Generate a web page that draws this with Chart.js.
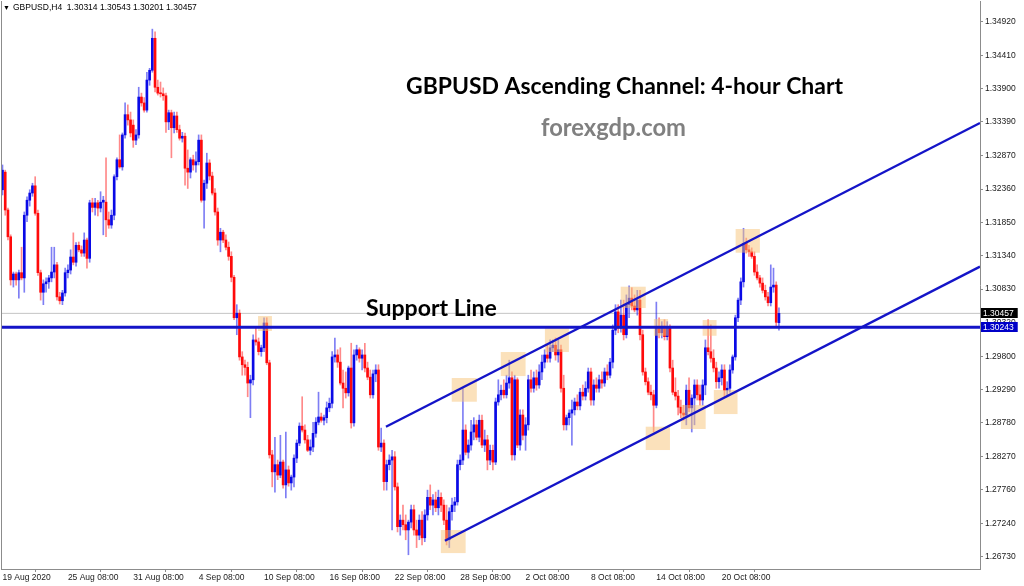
<!DOCTYPE html>
<html><head><meta charset="utf-8">
<script src="https://cdn.jsdelivr.net/npm/chart.js@4.4.1/dist/chart.umd.min.js"></script>
<style>html,body{margin:0;padding:0;background:#fff;overflow:hidden}#wrap{width:1024px;height:586px;position:relative}</style>
</head><body><div id="wrap"><canvas id="c" width="1024" height="586"></canvas></div>
<script>
// ---------- texts ----------
const headerSymbol = '▼';
const headerText = 'GBPUSD,H4  1.30314 1.30543 1.30201 1.30457';
const titleText = 'GBPUSD Ascending Channel: 4-hour Chart';
const siteText = 'forexgdp.com';
const supportText = 'Support Line';

// ---------- GBPUSD H4 candles (19 Aug 2020 08:00 ... 23 Oct 2020 20:00) ----------
const opens = [
1.3235,1.3262,1.3204,1.3163,1.3097,1.3106,1.3097,1.3108,1.3100,1.3196,
1.3219,1.3230,1.3241,1.3199,1.3108,1.3078,1.3091,1.3094,1.3100,1.3109,
1.3120,1.3071,1.3065,1.3077,1.3108,1.3112,1.3132,1.3124,1.3150,1.3143,
1.3138,1.3158,1.3130,1.3215,1.3208,1.3215,1.3207,1.3216,1.3216,1.3189,
1.3181,1.3196,1.3255,1.3281,1.3270,1.3319,1.3350,1.3342,1.3334,1.3311,
1.3319,1.3377,1.3368,1.3357,1.3403,1.3418,1.3467,1.3392,1.3383,1.3382,
1.3379,1.3339,1.3353,1.3330,1.3348,1.3327,1.3314,1.3317,1.3268,1.3262,
1.3281,1.3273,1.3278,1.3311,1.3219,1.3245,1.3276,1.3256,1.3230,1.3201,
1.3158,1.3170,1.3158,1.3147,1.3133,1.3101,1.3039,1.3046,1.2979,1.2967,
1.2963,1.2939,1.2944,1.3005,1.3002,1.2987,1.2993,1.3031,1.2970,1.2829,
1.2803,1.2814,1.2798,1.2818,1.2783,1.2806,1.2786,1.2795,1.2824,1.2847,
1.2873,1.2867,1.2852,1.2836,1.2841,1.2862,1.2879,1.2887,1.2882,1.2886,
1.2901,1.2908,1.2979,1.2982,1.2971,1.2939,1.2931,1.2924,1.2962,1.2878,
1.2982,1.2990,1.2977,1.2982,1.2962,1.2948,1.2921,1.2953,1.2959,1.2841,
1.2847,1.2788,1.2814,1.2821,1.2826,1.2780,1.2719,1.2729,1.2722,1.2714,
1.2726,1.2745,1.2714,1.2706,1.2729,1.2702,1.2737,1.2764,1.2752,1.2760,
1.2748,1.2764,1.2752,1.2729,1.2699,1.2742,1.2752,1.2757,1.2814,1.2821,
1.2867,1.2833,1.2844,1.2864,1.2875,1.2856,1.2882,1.2844,1.2852,1.2821,
1.2836,1.2818,1.2910,1.2921,1.2928,1.2921,1.2939,1.2947,1.2829,1.2944,
1.2844,1.2890,1.2859,1.2875,1.2944,1.2931,1.2947,1.2936,1.2956,1.2971,
1.2982,1.2977,1.2993,1.2997,1.2982,1.2990,1.2931,1.2875,1.2886,1.2893,
1.2898,1.2910,1.2904,1.2925,1.2919,1.2931,1.2956,1.2913,1.2936,1.2931,
1.2944,1.2939,1.2956,1.2951,1.2971,1.3020,1.3048,1.3023,1.3043,1.3013,
1.3059,1.3069,1.3057,1.3051,1.3066,1.3013,1.2956,1.2941,1.2925,1.2921,
1.2905,1.3023,1.3016,1.3026,1.3010,1.3023,1.2962,1.2925,1.2919,1.2902,
1.2893,1.2890,1.2928,1.2901,1.2916,1.2936,1.2921,1.2913,1.2936,1.2993,
1.2987,1.2977,1.2962,1.2941,1.2947,1.2959,1.2928,1.2931,1.2959,1.2979,
1.3039,1.3066,1.3094,1.3153,1.3143,1.3140,1.3133,1.3109,1.3100,1.3092,
1.3081,1.3071,1.3062,1.3086,1.3089,1.30314
];
const highs = [
1.3273,1.3265,1.3207,1.3166,1.3109,1.3109,1.3112,1.3147,1.3201,1.3224,
1.3235,1.3245,1.3255,1.3204,1.3112,1.3097,1.3100,1.3104,1.3147,1.3147,
1.3124,1.3078,1.3081,1.3115,1.3120,1.3143,1.3169,1.3154,1.3155,1.3149,
1.3169,1.3161,1.3219,1.3222,1.3222,1.3219,1.3232,1.3225,1.3284,1.3201,
1.3204,1.3258,1.3284,1.3319,1.3322,1.3368,1.3365,1.3354,1.3342,1.3327,
1.3392,1.3383,1.3376,1.3415,1.3421,1.3481,1.3477,1.3403,1.3400,1.3391,
1.3383,1.3357,1.3357,1.3354,1.3354,1.3334,1.3323,1.3322,1.3296,1.3284,
1.3288,1.3293,1.3319,1.3319,1.3250,1.3291,1.3281,1.3262,1.3237,1.3207,
1.3176,1.3173,1.3166,1.3155,1.3140,1.3104,1.3059,1.3051,1.2987,1.2974,
1.2971,1.2951,1.3013,1.3025,1.3008,1.2997,1.3039,1.3039,1.2974,1.2836,
1.2856,1.2821,1.2859,1.2821,1.2864,1.2812,1.2798,1.2829,1.2852,1.2878,
1.2918,1.2875,1.2859,1.2852,1.2879,1.2886,1.2925,1.2893,1.2890,1.2910,
1.2916,1.2987,1.3008,1.2990,1.2993,1.2959,1.2956,1.2965,1.3000,1.2990,
1.2997,1.2993,1.2990,1.3000,1.2971,1.2959,1.2959,1.2967,1.2967,1.2870,
1.2852,1.2821,1.2829,1.2836,1.2834,1.2786,1.2737,1.2752,1.2737,1.2729,
1.2752,1.2752,1.2729,1.2737,1.2742,1.2745,1.2775,1.2783,1.2768,1.2772,
1.2775,1.2771,1.2760,1.2752,1.2748,1.2763,1.2764,1.2821,1.2829,1.2931,
1.2875,1.2852,1.2882,1.2886,1.2882,1.2890,1.2890,1.2867,1.2859,1.2844,
1.2844,1.2916,1.2944,1.2936,1.2944,1.2951,1.2974,1.2956,1.2951,1.2947,
1.2898,1.2898,1.2886,1.2951,1.2959,1.2956,1.2959,1.2967,1.2982,1.2990,
1.2997,1.3005,1.3005,1.3008,1.3005,1.2997,1.2951,1.2890,1.2898,1.2913,
1.2916,1.2921,1.2931,1.2936,1.2941,1.2962,1.2962,1.2944,1.2947,1.2951,
1.2956,1.2962,1.2967,1.2977,1.3028,1.3059,1.3059,1.3066,1.3066,1.3074,
1.3088,1.3085,1.3074,1.3081,1.3081,1.3020,1.2962,1.2947,1.2936,1.2928,
1.3063,1.3039,1.3033,1.3036,1.3033,1.3028,1.2974,1.2947,1.2928,1.2913,
1.2905,1.2936,1.2947,1.2921,1.2944,1.2944,1.2936,1.2944,1.3005,1.3036,
1.3028,1.2990,1.2971,1.2956,1.2967,1.2967,1.2941,1.2967,1.2982,1.3043,
1.3069,1.3100,1.3176,1.3161,1.3150,1.3146,1.3140,1.3120,1.3104,1.3100,
1.3089,1.3078,1.3120,1.3115,1.3094,1.30543
];
const lows = [
1.3227,1.3196,1.3158,1.3089,1.3086,1.3089,1.3069,1.3097,1.3078,1.3186,
1.3210,1.3225,1.3196,1.3104,1.3066,1.3059,1.3078,1.3084,1.3094,1.3100,
1.3066,1.3060,1.3059,1.3072,1.3100,1.3106,1.3120,1.3118,1.3140,1.3133,
1.3133,1.3115,1.3124,1.3201,1.3196,1.3195,1.3201,1.3166,1.3163,1.3176,
1.3176,1.3189,1.3250,1.3268,1.3265,1.3314,1.3334,1.3316,1.3300,1.3304,
1.3314,1.3363,1.3354,1.3354,1.3395,1.3415,1.3385,1.3380,1.3377,1.3372,
1.3323,1.3327,1.3284,1.3322,1.3323,1.3311,1.3308,1.3242,1.3237,1.3253,
1.3265,1.3262,1.3273,1.3216,1.3176,1.3237,1.3250,1.3227,1.3196,1.3150,
1.3140,1.3154,1.3143,1.3127,1.3094,1.3036,1.3013,1.2974,1.2951,1.2951,
1.2918,1.2886,1.2936,1.2997,1.2982,1.2980,1.2987,1.2967,1.2824,1.2780,
1.2772,1.2791,1.2794,1.2778,1.2763,1.2781,1.2775,1.2780,1.2817,1.2843,
1.2864,1.2847,1.2834,1.2829,1.2834,1.2856,1.2875,1.2879,1.2875,1.2878,
1.2895,1.2901,1.2971,1.2963,1.2936,1.2901,1.2916,1.2919,1.2870,1.2873,
1.2974,1.2971,1.2959,1.2956,1.2944,1.2916,1.2916,1.2941,1.2836,1.2834,
1.2775,1.2775,1.2806,1.2714,1.2775,1.2711,1.2706,1.2714,1.2699,1.2676,
1.2717,1.2706,1.2687,1.2699,1.2691,1.2696,1.2729,1.2745,1.2737,1.2742,
1.2737,1.2742,1.2722,1.2691,1.2687,1.2729,1.2742,1.2752,1.2806,1.2814,
1.2829,1.2824,1.2836,1.2852,1.2852,1.2849,1.2840,1.2834,1.2806,1.2814,
1.2806,1.2814,1.2905,1.2913,1.2916,1.2916,1.2931,1.2821,1.2821,1.2840,
1.2836,1.2852,1.2836,1.2867,1.2925,1.2925,1.2928,1.2931,1.2944,1.2962,
1.2971,1.2971,1.2987,1.2974,1.2971,1.2925,1.2867,1.2867,1.2875,1.2844,
1.2890,1.2898,1.2898,1.2913,1.2913,1.2925,1.2905,1.2905,1.2925,1.2925,
1.2931,1.2934,1.2944,1.2947,1.2962,1.3013,1.3016,1.3017,1.3005,1.3008,
1.3039,1.3051,1.3048,1.3043,1.3005,1.2951,1.2936,1.2921,1.2913,1.2864,
1.2901,1.3008,1.3008,1.3005,1.3005,1.2956,1.2921,1.2913,1.2890,1.2886,
1.2882,1.2875,1.2895,1.2864,1.2875,1.2913,1.2905,1.2905,1.2921,1.2982,
1.2971,1.2956,1.2931,1.2931,1.2936,1.2918,1.2919,1.2925,1.2954,1.2974,
1.3033,1.3059,1.3086,1.3138,1.3133,1.3130,1.3104,1.3097,1.3086,1.3077,
1.3066,1.3057,1.3057,1.3078,1.3026,1.30201
];
const closes = [
1.3265,1.3204,1.3163,1.3097,1.3106,1.3097,1.3108,1.3100,1.3196,1.3219,
1.3230,1.3241,1.3199,1.3108,1.3078,1.3091,1.3094,1.3100,1.3109,1.3120,
1.3071,1.3065,1.3077,1.3108,1.3112,1.3132,1.3124,1.3150,1.3143,1.3138,
1.3158,1.3130,1.3215,1.3208,1.3215,1.3207,1.3216,1.3219,1.3189,1.3181,
1.3196,1.3255,1.3281,1.3270,1.3319,1.3350,1.3342,1.3322,1.3311,1.3319,
1.3377,1.3368,1.3357,1.3403,1.3418,1.3467,1.3392,1.3383,1.3382,1.3379,
1.3339,1.3353,1.3330,1.3348,1.3327,1.3314,1.3317,1.3268,1.3262,1.3281,
1.3273,1.3278,1.3311,1.3219,1.3245,1.3276,1.3256,1.3230,1.3201,1.3158,
1.3170,1.3158,1.3147,1.3133,1.3101,1.3039,1.3046,1.2979,1.2967,1.2963,
1.2939,1.2944,1.3005,1.3002,1.2987,1.2993,1.3031,1.2970,1.2829,1.2803,
1.2814,1.2798,1.2818,1.2783,1.2806,1.2786,1.2795,1.2824,1.2847,1.2873,
1.2867,1.2852,1.2836,1.2841,1.2862,1.2879,1.2887,1.2882,1.2886,1.2901,
1.2908,1.2979,1.2982,1.2971,1.2939,1.2931,1.2924,1.2962,1.2878,1.2982,
1.2990,1.2977,1.2982,1.2962,1.2948,1.2921,1.2953,1.2959,1.2841,1.2847,
1.2788,1.2814,1.2821,1.2826,1.2780,1.2719,1.2729,1.2722,1.2714,1.2726,
1.2745,1.2714,1.2706,1.2729,1.2702,1.2737,1.2764,1.2752,1.2760,1.2748,
1.2764,1.2752,1.2729,1.2699,1.2742,1.2752,1.2757,1.2814,1.2821,1.2867,
1.2833,1.2844,1.2864,1.2875,1.2856,1.2882,1.2844,1.2852,1.2821,1.2836,
1.2818,1.2910,1.2921,1.2928,1.2921,1.2939,1.2947,1.2829,1.2944,1.2844,
1.2890,1.2859,1.2875,1.2944,1.2931,1.2947,1.2936,1.2956,1.2971,1.2982,
1.2977,1.2993,1.2997,1.2982,1.2990,1.2931,1.2875,1.2886,1.2893,1.2898,
1.2910,1.2904,1.2925,1.2919,1.2931,1.2956,1.2913,1.2936,1.2931,1.2944,
1.2939,1.2956,1.2951,1.2971,1.3020,1.3048,1.3023,1.3043,1.3013,1.3059,
1.3069,1.3057,1.3051,1.3066,1.3013,1.2956,1.2941,1.2925,1.2921,1.2905,
1.3023,1.3016,1.3026,1.3010,1.3023,1.2962,1.2925,1.2919,1.2902,1.2893,
1.2890,1.2928,1.2901,1.2916,1.2936,1.2921,1.2913,1.2936,1.2993,1.2987,
1.2977,1.2962,1.2941,1.2947,1.2959,1.2928,1.2931,1.2959,1.2979,1.3039,
1.3066,1.3094,1.3153,1.3143,1.3140,1.3133,1.3109,1.3100,1.3092,1.3081,
1.3071,1.3062,1.3086,1.3089,1.3032,1.30457
];

// ---------- axes ----------
const xTickIndex = [0, 24, 48, 72, 96, 120, 144, 168, 192, 216, 240, 264];
const xTickLabels = ['19 Aug 2020','25 Aug 08:00','31 Aug 08:00','4 Sep 08:00','10 Sep 08:00','16 Sep 08:00','22 Sep 08:00','28 Sep 08:00','2 Oct 08:00','8 Oct 08:00','14 Oct 08:00','20 Oct 08:00'];
const yTickLabels = ['1.34920','1.34410','1.33900','1.33390','1.32870','1.32360','1.31850','1.31340','1.30830','1.30320','1.29800','1.29290','1.28780','1.28270','1.27760','1.27240','1.26730'];
const xMin = -0.55, xMax = 358.8;
const yMin = 1.26542, yMax = 1.35241;

// ---------- annotations (in bar index / price units) ----------
const bidPrice = 1.30457;
const supportLevel = 1.30243;
const upperChannel = [[140.75, 1.28721], [358.8, 1.33373]];
const lowerChannel = [[162.4, 1.26975], [358.8, 1.31172]];
// [fromIndex, toIndex, topPrice, bottomPrice]
const touchZones = [
  [93.8, 98.9, 1.30416, 1.30187],
  [164.9, 174.1, 1.29467, 1.29104],
  [182.9, 192.0, 1.29865, 1.29497],
  [199.1, 207.9, 1.30232, 1.29865],
  [226.9, 236.1, 1.30865, 1.30539],
  [239.1, 244.3, 1.30370, 1.30114],
  [257.0, 262.1, 1.30355, 1.30114],
  [269.1, 278.0, 1.31749, 1.31386],
  [236.1, 245.0, 1.28721, 1.28364],
  [249.0, 258.1, 1.29053, 1.28686],
  [261.1, 269.8, 1.29283, 1.28915],
  [160.9, 170.0, 1.27139, 1.26786]
];

// ---------- styles ----------
const BULL = '#0a0ae6', BEAR = '#ff0a0a';
const BULL_WICK = 'rgba(20,20,235,0.55)', BEAR_WICK = 'rgba(255,20,20,0.5)';
const LINE_BLUE = 'rgb(20,20,200)';
const SMALL_FONT = '"Liberation Sans", Arial, sans-serif';
const BIG_FONT = 'Lato, "Open Sans", sans-serif';

const idx = closes.map((_, i) => i);
const isUp = idx.map(i => closes[i] >= opens[i]);
const wickData = idx.map(i => ({ x: i, y: [lows[i], highs[i]] }));
const bodyData = idx.map(i => ({ x: i, y: [opens[i], closes[i]] }));
const toPts = arr => arr.map(([x, y]) => ({ x, y }));

const BODY_DATASET = 2;

function fitText(ctx, text, weight, family, left, right, baseline, color) {
  ctx.font = `${weight} 20px ${family}`;
  const w = ctx.measureText(text).width;
  const size = 20 * (right - left) / w;
  ctx.font = `${weight} ${size.toFixed(2)}px ${family}`;
  ctx.fillStyle = color;
  ctx.textAlign = 'left';
  ctx.textBaseline = 'alphabetic';
  ctx.fillText(text, left, baseline);
}

const overlay = {
  id: 'overlay',
  afterDatasetDraw(chart, args) {
    if (args.index !== BODY_DATASET) return;
    const { ctx, chartArea: ca, scales: { x, y } } = chart;
    ctx.save();
    ctx.beginPath();
    ctx.rect(ca.left, ca.top, ca.width, ca.height);
    ctx.clip();
    ctx.fillStyle = 'rgba(248,196,120,0.5)';
    touchZones.forEach(([a, b, pt, pb]) => {
      const x1 = x.getPixelForValue(a), x2 = x.getPixelForValue(b);
      const y1 = y.getPixelForValue(pt), y2 = y.getPixelForValue(pb);
      ctx.fillRect(x1, y1, x2 - x1, y2 - y1);
    });
    ctx.restore();
  },
  afterDraw(chart) {
    const { ctx, chartArea: ca, scales: { y } } = chart;
    ctx.save();
    // left frame line
    ctx.strokeStyle = '#8c8c8c';
    ctx.lineWidth = 1;
    ctx.beginPath();
    ctx.moveTo(ca.left + 0.5, ca.top);
    ctx.lineTo(ca.left + 0.5, ca.bottom);
    ctx.stroke();

    // header
    ctx.fillStyle = '#000';
    ctx.textAlign = 'left';
    ctx.textBaseline = 'alphabetic';
    ctx.font = `7px ${SMALL_FONT}`;
    ctx.fillText(headerSymbol, 3, 10);
    ctx.font = `8.5px ${SMALL_FONT}`;
    ctx.fillText(headerText, 13, 10);

    // price tags on the axis
    const tags = [
      { price: bidPrice, bg: '#000000' },
      { price: supportLevel, bg: '#0000c8' }
    ];
    ctx.font = `8.5px ${SMALL_FONT}`;
    tags.forEach(t => {
      const py = Math.round(y.getPixelForValue(t.price));
      const txt = t.price.toFixed(5);
      const w = ctx.measureText(txt).width + 6;
      ctx.fillStyle = t.bg;
      ctx.fillRect(ca.right + 1, py - 5, w, 10);
      ctx.fillStyle = '#ffffff';
      ctx.textBaseline = 'middle';
      ctx.fillText(txt, ca.right + 3, py + 0.5);
    });

    // titles
    fitText(ctx, titleText, 'bold', BIG_FONT, 406, 843, 94, '#000000');
    fitText(ctx, siteText, 'bold', BIG_FONT, 541, 686, 136, '#808080');
    fitText(ctx, supportText, 'bold', BIG_FONT, 366, 497, 316, '#000000');
    ctx.restore();
  }
};

new Chart(document.getElementById('c'), {
  type: 'bar',
  data: {
    datasets: [
      { type: 'line', data: toPts([[xMin, bidPrice], [xMax, bidPrice]]), borderColor: '#c4c4c4', borderWidth: 1, pointRadius: 0, order: 10 },
      { type: 'bar', data: wickData, backgroundColor: idx.map(i => isUp[i] ? BULL_WICK : BEAR_WICK), barThickness: 1, grouped: false, order: 9 },
      { type: 'bar', data: bodyData, backgroundColor: idx.map(i => isUp[i] ? BULL : BEAR), barThickness: 2, minBarLength: 1, grouped: false, order: 8 },
      { type: 'line', data: toPts([[xMin, supportLevel], [xMax, supportLevel]]), borderColor: LINE_BLUE, borderWidth: 3, pointRadius: 0, order: 2 },
      { type: 'line', data: toPts(upperChannel), borderColor: LINE_BLUE, borderWidth: 2.4, pointRadius: 0, order: 1 },
      { type: 'line', data: toPts(lowerChannel), borderColor: LINE_BLUE, borderWidth: 2.4, pointRadius: 0, order: 1 }
    ]
  },
  options: {
    responsive: false,
    animation: false,
    devicePixelRatio: 1,
    events: [],
    layout: { padding: { left: 1, top: 1, right: 0, bottom: 0 } },
    plugins: { legend: { display: false }, tooltip: { enabled: false } },
    scales: {
      x: {
        type: 'linear', position: 'bottom', min: xMin, max: xMax, offset: false,
        grid: { drawOnChartArea: false, drawTicks: true, tickLength: 3, color: '#8c8c8c' },
        border: { display: true, color: '#8c8c8c', width: 1 },
        afterBuildTicks: s => { s.ticks = xTickIndex.map(v => ({ value: v })); },
        afterFit: s => { s.height = 17; s.paddingLeft = 0; s.paddingRight = 0; },
        ticks: {
          autoSkip: false, maxRotation: 0, minRotation: 0, align: 'start', padding: 1,
          color: '#1a1a1a', font: { family: SMALL_FONT, size: 8.5 },
          callback: v => xTickLabels[xTickIndex.indexOf(v)]
        }
      },
      y: {
        type: 'linear', position: 'right', min: yMin, max: yMax,
        grid: { drawOnChartArea: false, drawTicks: true, tickLength: 3, color: '#8c8c8c' },
        border: { display: true, color: '#8c8c8c', width: 1 },
        afterBuildTicks: s => { s.ticks = yTickLabels.map(t => ({ value: parseFloat(t) })); },
        afterFit: s => { s.width = 44; s.paddingTop = 0; s.paddingBottom = 0; },
        ticks: {
          autoSkip: false, padding: 2, color: '#1a1a1a', font: { family: SMALL_FONT, size: 8.5 },
          callback: (v, i) => yTickLabels[i]
        }
      }
    }
  },
  plugins: [overlay]
});
</script>
</body></html>
